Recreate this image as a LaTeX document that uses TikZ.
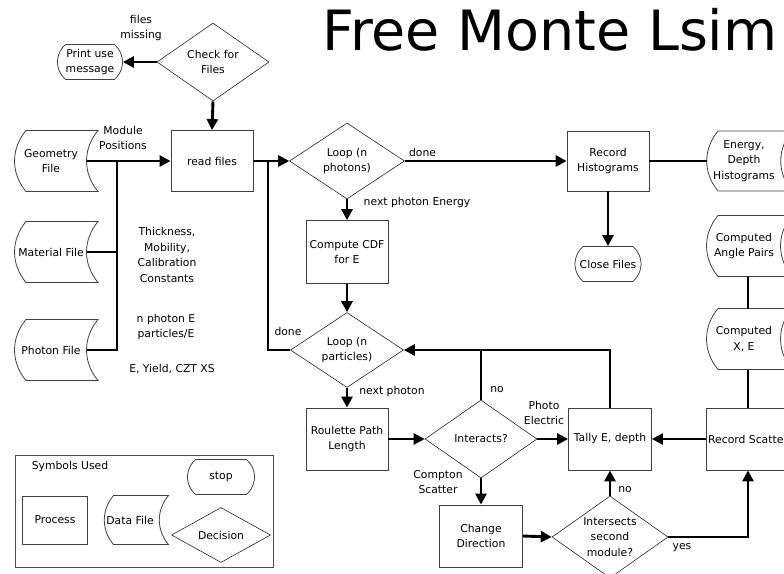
\documentclass[tikz,border=0pt]{standalone}
\usepackage{fontspec}
\setmainfont{DejaVu Sans}
\usetikzlibrary{arrows.meta,shapes.geometric,shapes.misc,calc}
\tikzset{
  flow/.style={-{Triangle[length=11pt,width=11pt]}, line width=2.9pt, draw=black},
  bus/.style={line width=2.9pt, draw=black},
  link/.style={line width=1.3pt, draw=black},
  process/.style={draw=black!75, line width=0.8pt, rectangle, minimum width=82pt, minimum height=61pt, inner sep=1pt, align=center},
  decision/.style={draw=black!85, line width=0.6pt, diamond, aspect=1.5, minimum width=112pt, minimum height=78pt, inner sep=0pt, align=center},
  terminal/.style={draw=black!75, line width=0.8pt, rounded rectangle, rounded rectangle arc length=100, minimum width=68pt, minimum height=35pt, inner sep=1pt, align=center},
  datafile/.style={
    rectangle, minimum width=72pt, minimum height=61pt, inner sep=1pt, outer sep=0pt, align=center,
    append after command={
      \pgfextra{
        \draw[draw=black!75, line width=0.8pt]
          ([xshift=11pt]\tikzlastnode.north west) to[bend right=40] ([xshift=11pt]\tikzlastnode.south west)
          -- ([xshift=11pt]\tikzlastnode.south east) to[bend left=40] ([xshift=11pt]\tikzlastnode.north east)
          -- cycle;
      }
    }
  },
  note/.style={align=center, inner sep=1pt}
}

\begin{document}
\begin{tikzpicture}[x=1pt, y=-1pt, font=\fontsize{10.8}{15.5}\selectfont]
  \useasboundingbox (0,0) rectangle (784,573);
  \clip (0,0) rectangle (784,573);

  % title
  \node[anchor=base west, inner sep=0pt, font=\fontsize{55.5}{60}\selectfont] (title) at (322,50) {Free Monte Lsim};

  % input files
  \node[decision] (check) at (213,62) {Check for\\Files};
  \node[terminal, minimum width=67pt] (usage) at (90,62) {Print use\\message};
  \node[note] (missing) at (141,28) {files\\missing};
  \node[process] (read) at (212,161) {read files};
  \node[datafile] (geo) at (51,161) {Geometry\\File};
  \node[datafile] (mat) at (51,252) {Material File};
  \node[datafile] (pho) at (51,350) {Photon File};
  \node[note] (modpos) at (123,138) {Module\\Positions};
  \node[note] (matinfo) at (167,255) {Thickness,\\Mobility,\\Calibration\\Constants};
  \node[note] (phoinfo) at (166,327) {n photon E\\particles/E};
  \node[note] (xsinfo) at (172,369) {E, Yield, CZT XS};
  \coordinate (bus) at (117,161);
  \coordinate (join) at (268,161);

  \draw[flow] (check.west) -- (usage.east);
  \draw[flow] (check.south) -- (read.north);
  \draw[flow] (geo.east) -- (read.west);
  \draw[bus] (mat.east) -- (mat.east -| bus);
  \draw[bus] (pho.east) -| (bus);

  % photon loop
  \node[decision, minimum width=115pt, minimum height=76pt] (photons) at (347,161) {Loop (n\\photons)};
  \node[process, minimum height=63pt] (cdf) at (347,252) {Compute CDF\\for E};
  \node[decision, minimum width=113pt, minimum height=75pt] (particles) at (347,350) {Loop (n\\particles)};
  \node[process, minimum height=62pt] (path) at (347,439) {Roulette Path\\Length};
  \node[process, minimum height=60pt] (hist) at (608,161) {Record\\Histograms};
  \node[terminal] (close) at (608,264) {Close Files};

  \draw[flow] (read.east) -- (photons.west);
  \draw[bus] (particles.west) -| (join);
  \node[note] (donep) at (288,331) {done};
  \draw[flow] (photons.east) -- node[pos=0.11, above=3pt, inner sep=0pt] {done} (hist.west);
  \draw[flow] (photons.south) -- (cdf.north);
  \node[note] (nextE) at (417,203) {next photon Energy};
  \draw[flow] (cdf.south) -- (particles.north);
  \draw[flow] (particles.south) -- (path.north);
  \node[note] (nextp) at (392,392) {next photon};
  \draw[flow] (hist.south) -- (close.north);

  % interaction
  \node[decision] (interacts) at (481,439) {Interacts?};
  \node[process, minimum width=83pt, minimum height=62pt] (change) at (481,536) {Change\\Direction};
  \node[process, minimum width=83pt, minimum height=62pt] (tally) at (610,439) {Tally E, depth};
  \node[decision, minimum width=116pt, minimum height=82pt] (second) at (610,537) {Intersects\\second\\module?};
  \node[process, minimum width=83pt, minimum height=62pt] (scatter) at (748,439) {Record Scatter};

  \draw[flow, line width=2.3pt] (path.east) -- (interacts.west);
  \draw[flow] (interacts.east) -- (tally.west);
  \node[note] (photo) at (544,413) {Photo\\Electric};
  \draw[flow] (interacts.south) -- (change.north);
  \node[note] (compton) at (438,482) {Compton\\Scatter};
  \draw[flow] (change.east) -- (second.west);
  \draw[flow] (second.north) -- (tally.south);
  \node[note] (nolow) at (625,490) {no};
  \draw[flow] (second.east) -| (scatter.south);
  \node[note] (yes) at (682,548) {yes};
  \draw[flow, line width=2.3pt] (scatter.west) -- (tally.east);
  \draw[flow] (tally.north) |- (particles.east);
  \draw[bus] (interacts.north) -- (interacts.north |- particles.east);
  \node[note] (noup) at (497,390) {no};

  % output files
  \node[datafile, minimum width=74pt, minimum height=60pt] (edh) at (744,161) {Energy,\\Depth\\Histograms};
  \node[datafile, minimum width=74pt] (pairs) at (744,246) {Computed\\Angle Pairs};
  \node[datafile, minimum width=74pt] (xe) at (744,339) {Computed\\X, E};
  \draw[link] (hist.east) -- (edh.west);
  \draw[link] (pairs.south -| scatter.north) -- (xe.north -| scatter.north);
  \draw[link] (xe.south -| scatter.north) -- (scatter.north);

  % legend
  \draw[draw=black!70, line width=0.8pt] (15,455) rectangle (273,567);
  \node[note] (symbols) at (70,467) {Symbols Used};
  \node[process, minimum width=65pt, minimum height=48pt] (lproc) at (55,520) {Process};
  \node[datafile, minimum width=55pt, minimum height=49pt] (ldata) at (130,520) {Data File};
  \node[terminal, minimum width=69pt] (lstop) at (221,477) {stop};
  \node[decision, minimum width=99pt, minimum height=55pt] (ldec) at (221,535) {Decision};
\end{tikzpicture}
\end{document}
